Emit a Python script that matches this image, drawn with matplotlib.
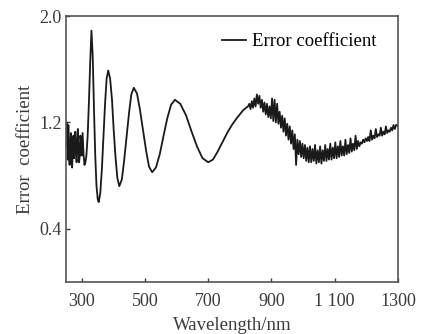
import matplotlib
matplotlib.use('Agg')
import matplotlib.pyplot as plt

plt.rcParams['font.family'] = ['Liberation Serif', 'DejaVu Serif']

# noisy start, sharp first peak and the damped oscillation
wl_short = [250, 252, 254, 256, 258, 260, 262, 264, 266, 268, 270, 272, 274, 276, 278,
            280, 282, 284, 286, 288, 290, 292, 294, 296, 298, 300, 303, 306, 309, 312,
            315, 319, 323, 327, 331, 335, 339, 343, 347, 351, 354,
            359, 364, 369, 374, 379, 384, 390, 396, 401, 407, 413, 419,
            427, 434, 442, 450, 457, 465, 475, 484, 494, 504, 513, 523,
            535, 547, 559, 571, 583, 595, 612, 630, 647, 665, 682, 700,
            715, 730, 745, 760, 775, 790, 800, 810, 820, 826]
ec_short = [1.02, 1.20, 1.16, 0.92, 1.18, 0.96, 0.88, 1.05, 1.12, 0.90, 0.86, 1.00, 1.10, 0.93, 1.08,
            1.13, 0.98, 0.90, 1.05, 1.15, 1.00, 0.90, 0.95, 1.10, 1.06, 0.95, 1.12, 0.96, 0.88, 0.90,
            0.95, 1.10, 1.35, 1.65, 1.89, 1.70, 1.30, 0.95, 0.72, 0.62, 0.60,
            0.67, 0.85, 1.10, 1.34, 1.53, 1.59, 1.53, 1.37, 1.155, 0.94, 0.78, 0.72,
            0.77, 0.905, 1.09, 1.275, 1.41, 1.46, 1.417, 1.30, 1.14, 0.984, 0.867, 0.825,
            0.861, 0.961, 1.10, 1.234, 1.334, 1.37, 1.339, 1.253, 1.135, 1.017, 0.931, 0.90,
            0.92, 0.98, 1.05, 1.12, 1.18, 1.23, 1.26, 1.29, 1.31, 1.32]

# noisy long-wavelength part (4 nm steps)
wl_long = list(range(830, 1300, 4)) + [1300]
ec_long = [1.34, 1.30, 1.36, 1.31, 1.38, 1.32, 1.41, 1.34, 1.40, 1.31,
           1.37, 1.28, 1.35, 1.26, 1.34, 1.24, 1.32, 1.23, 1.38, 1.21,
           1.37, 1.20, 1.34, 1.19, 1.28, 1.16, 1.25, 1.13, 1.23, 1.10,
           1.19, 1.07, 1.17, 1.04, 1.14, 1.00, 1.11, 0.88, 1.07, 0.96,
           1.06, 0.94, 1.04, 0.93, 1.03, 0.91, 1.01, 0.90, 1.02, 0.90,
           1.00, 0.91, 1.03, 0.89, 0.99, 0.90, 1.02, 0.89, 0.99, 0.91,
           1.03, 0.91, 1.00, 0.92, 1.04, 0.92, 1.01, 0.93, 1.05, 0.93,
           1.02, 0.94, 1.06, 0.95, 1.02, 0.95, 1.07, 0.96, 1.03, 0.97,
           1.08, 0.98, 1.04, 0.99, 1.10, 1.00, 1.06, 1.02, 1.05, 1.04,
           1.07, 1.05, 1.08, 1.06, 1.09, 1.06, 1.14, 1.07, 1.10, 1.08,
           1.15, 1.09, 1.11, 1.10, 1.16, 1.10, 1.13, 1.11, 1.17, 1.12,
           1.14, 1.13, 1.16, 1.14, 1.18, 1.15, 1.18, 1.18, 1.17]

wavelength = wl_short + wl_long
error_coef = ec_short + ec_long

xticks = [300, 500, 700, 900, 1100, 1300]
xticklabels = ['300', '500', '700', '900', '1 100', '1300']
yticks = [0.4, 1.2, 2.0]
yticklabels = ['0.4', '1.2', '2.0']

txt = '#3a3a3a'

fig = plt.figure(figsize=(4.22, 3.34), dpi=100)
ax = fig.add_axes([0.156, 0.156, 0.787, 0.796])

ax.plot(wavelength, error_coef, color='#1a1a1a', linewidth=1.3, label='Error coefficient')

ax.set_xlim(250, 1300)
ax.set_ylim(0, 2.0)
ax.set_xticks(xticks)
ax.set_xticklabels(xticklabels)
ax.set_yticks(yticks)
ax.set_yticklabels(yticklabels)
ax.tick_params(direction='in', length=3, width=1, labelsize=13, colors=txt, pad=3)
ax.tick_params(axis='x', pad=8)

for s in ax.spines.values():
    s.set_color('#555555')
    s.set_linewidth(1.2)

ax.set_xlabel('Wavelength/nm', fontsize=13.5, color=txt, labelpad=5)
ax.set_ylabel('Error  coefficient', fontsize=13.5, color=txt, labelpad=4)

ax.legend(loc='upper right', bbox_to_anchor=(0.935, 0.935), frameon=False,
          fontsize=13.5, handlelength=1.3, handletextpad=0.3,
          borderaxespad=0, borderpad=0)

plt.savefig('out.png', dpi=100)
